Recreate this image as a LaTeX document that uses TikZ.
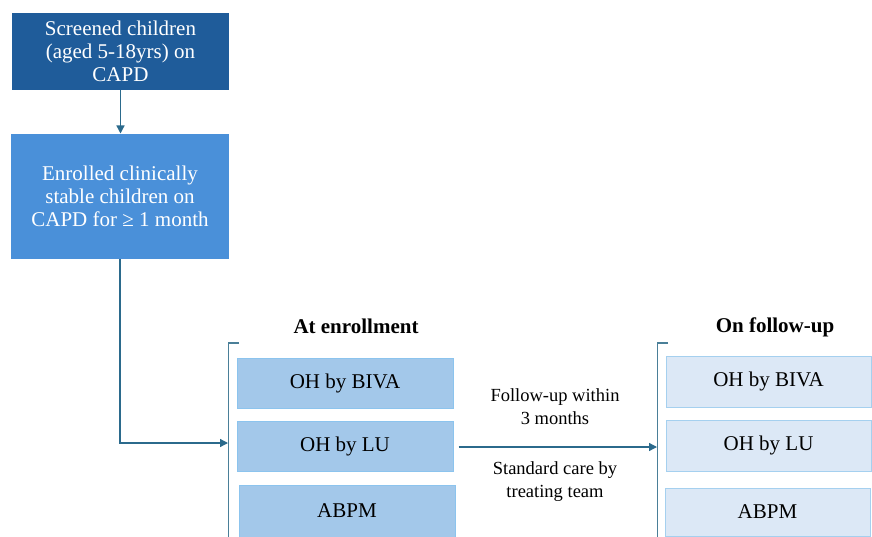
\documentclass[tikz,border=0pt]{standalone}
\usepackage{fontspec}
\setmainfont{Liberation Serif}
\usetikzlibrary{calc,positioning,arrows.meta}
\definecolor{deep}{HTML}{1F5C9A}
\definecolor{midblue}{HTML}{4A90D9}
\definecolor{pale}{HTML}{A3C8EA}
\definecolor{paleedge}{HTML}{8CC4EE}
\definecolor{faint}{HTML}{DCE8F6}
\definecolor{faintedge}{HTML}{A5D0EF}
\definecolor{flowc}{HTML}{2B6A8C}
\definecolor{brc}{HTML}{4A7F98}

\begin{document}
\begin{tikzpicture}[x=1pt, y=-1pt, line width=1pt, font=\fontsize{21}{23}\selectfont,
  topbox/.style={fill=#1, text=white, align=center, inner sep=0pt},
  stage/.style={fill=pale, draw=paleedge, minimum width=216pt, minimum height=50pt, inner sep=0pt},
  later/.style={fill=faint, draw=faintedge, minimum width=205pt, minimum height=50pt, inner sep=0pt},
  flow/.style={flowc, line width=1.3pt, -{Triangle[length=8pt, width=8pt]}},
  note/.style={align=center, font=\fontsize{18.5}{23}\selectfont}]
  \useasboundingbox (0,0) rectangle (872,537);

  \node[topbox=deep, minimum width=217pt, minimum height=77pt] (screen) at (120.5,51.5)
    {Screened children\\(aged 5-18yrs) on\\CAPD};
  \node[topbox=midblue, minimum width=218pt, minimum height=125pt] (enrol) at (120,196.5)
    {Enrolled clinically\\stable children on\\CAPD for ≥ 1 month};

  % at enrollment
  \node[font=\fontsize{21}{23}\selectfont\bfseries] (headL) at (356,326) {At enrollment};
  \node[stage] (biva) at (345,383) {OH by BIVA};
  \node[stage] (lu) at (345,446) {OH by LU};
  \node[stage, minimum height=52pt] (abpm) at (347,511) {ABPM};

  % on follow-up
  \node[font=\fontsize{21}{23}\selectfont\bfseries] (headR) at (775,327) {On follow-up};
  \node[later, minimum height=51pt] (biva2) at (768.5,381.5) {OH by BIVA};
  \node[later, minimum height=51pt] (lu2) at (768.5,445.5) {OH by LU};
  \node[later, minimum height=48pt] (abpm2) at (767.5,512) {ABPM};

  \coordinate (inL) at (228,443);
  \coordinate (inR) at (657,447);
  \draw[brc, line width=1.6pt] (239,343) -- (228.5,343) -- (228.5,537);
  \draw[brc, line width=1.6pt] (668,343) -- (657.5,343) -- (657.5,537);

  \draw[flow] (screen.south) -- (screen.south |- enrol.north);
  \draw[flow] (enrol.south) |- (inL);
  \draw[flow, shorten <=5pt] (lu.east |- inR) -- (inR);

  \node[note] (within) at (555,407) {Follow-up within\\3 months};
  \node[note] (care) at (555,482) {Standard care by\\treating team};
\end{tikzpicture}
\end{document}
